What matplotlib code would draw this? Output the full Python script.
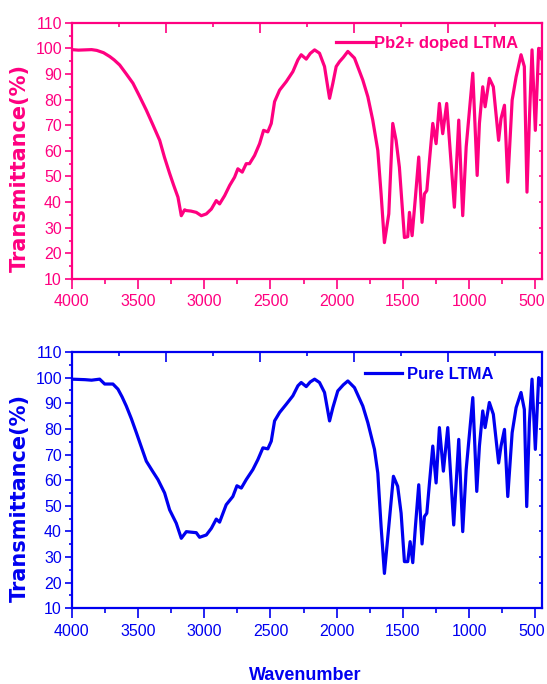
import numpy as np
import matplotlib
matplotlib.use('Agg')
import matplotlib.pyplot as plt
import matplotlib.transforms as mtransforms
from matplotlib.ticker import MultipleLocator, FixedLocator

# FTIR spectra, values
doped_wn = [4000, 3950, 3900, 3850, 3811, 3760, 3713, 3680, 3638, 3588, 3538, 3490, 3437, 3386,
            3336, 3300, 3261, 3230, 3198, 3173, 3148, 3135, 3100, 3060, 3022, 2984, 2946, 2909,
            2884, 2846, 2808, 2771, 2746, 2713, 2683, 2658, 2620, 2582, 2552, 2520, 2494, 2469,
            2431, 2381, 2331, 2293, 2268, 2230, 2200, 2167, 2130, 2092, 2065, 2054, 2029, 2004,
            1979, 1950, 1916, 1866, 1803, 1765, 1728, 1690, 1665, 1640, 1607, 1577, 1552, 1527,
            1489, 1464, 1451, 1431, 1406, 1381, 1356, 1338, 1320, 1300, 1275, 1250, 1225, 1200,
            1170, 1112, 1079, 1049, 1023, 973, 940, 923, 898, 880, 848, 818, 778, 760, 734, 709,
            676, 646, 609, 584, 564, 546, 526, 501, 476, 455]
doped_T = [99.5, 99.3, 99.4, 99.5, 99.2, 98.3, 96.8, 95.5, 93.5, 90.0, 86.4, 81.5, 75.9, 70.0,
           64.1, 57.5, 51.2, 46.5, 41.9, 34.7, 37.0, 36.7, 36.5, 36.0, 34.7, 35.4, 37.3, 40.6,
           39.3, 42.5, 46.5, 49.7, 53.0, 51.7, 55.0, 55.0, 58.2, 62.8, 68.0, 67.4, 70.7, 79.2,
           83.7, 87.0, 90.9, 95.5, 97.5, 95.8, 98.0, 99.4, 98.1, 92.9, 84.0, 80.5, 86.4, 92.9,
           94.8, 96.5, 98.8, 96.2, 87.6, 81.1, 72.0, 60.2, 43.2, 24.2, 35.4, 70.7, 64.1, 53.6,
           26.2, 26.5, 36.0, 26.9, 41.9, 57.6, 32.1, 43.2, 44.5, 56.3, 70.7, 62.8, 78.5, 66.7,
           78.5, 38.0, 72.0, 34.7, 61.5, 90.3, 50.4, 70.7, 85.0, 77.2, 88.3, 85.0, 64.1, 72.6,
           77.8, 47.8, 79.8, 88.9, 97.5, 92.9, 43.9, 72.0, 99.4, 68.0, 100.0, 96.0]

pure_wn = [4000, 3900, 3850, 3789, 3751, 3689, 3651, 3620, 3588, 3550, 3512, 3475, 3437, 3390,
           3349, 3299, 3261, 3211, 3173, 3135, 3100, 3060, 3035, 2984, 2946, 2909, 2884, 2834,
           2784, 2753, 2720, 2683, 2633, 2595, 2557, 2520, 2494, 2469, 2431, 2381, 2331, 2293,
           2268, 2230, 2200, 2167, 2130, 2092, 2054, 2029, 1992, 1950, 1916, 1866, 1803, 1765,
           1715, 1690, 1665, 1640, 1607, 1572, 1540, 1514, 1489, 1464, 1446, 1426, 1406, 1381,
           1356, 1338, 1320, 1300, 1275, 1250, 1225, 1195, 1162, 1117, 1079, 1049, 1023, 973,
           943, 923, 898, 880, 848, 818, 778, 760, 734, 709, 676, 646, 609, 584, 566, 546, 526,
           501, 476, 455]
pure_T = [99.4, 99.2, 99.0, 99.4, 97.5, 97.5, 95.5, 92.5, 88.9, 84.0, 78.5, 73.0, 67.4, 63.5,
          60.2, 55.0, 48.4, 43.2, 37.3, 39.9, 39.7, 39.5, 37.7, 38.6, 41.2, 44.8, 43.6, 50.4,
          53.6, 57.8, 56.9, 60.2, 64.1, 68.0, 72.6, 72.2, 75.2, 83.1, 86.4, 89.6, 92.9, 96.8,
          98.1, 96.5, 98.3, 99.4, 98.1, 94.2, 83.1, 88.3, 94.8, 97.2, 98.7, 96.1, 88.9, 82.4,
          72.0, 62.8, 41.9, 23.6, 41.9, 61.5, 57.6, 47.1, 28.2, 28.2, 36.0, 27.8, 41.9, 58.2,
          35.1, 45.8, 47.1, 58.9, 73.3, 58.9, 80.5, 63.5, 80.5, 42.5, 75.9, 39.9, 64.1, 92.2,
          55.6, 73.3, 87.0, 80.5, 90.3, 85.7, 66.7, 73.3, 79.8, 53.6, 78.5, 88.3, 94.2, 87.6,
          49.7, 82.4, 99.4, 72.0, 100.0, 97.0]

x_ticks = [4000, 3500, 3000, 2500, 2000, 1500, 1000, 500]

PINK = '#ff0080'
BLUE = '#0000f0'
SANS = ['Liberation Sans', 'DejaVu Sans']

fig = plt.figure(figsize=(5.47, 6.84), dpi=100)


def panel(rect, wn, T, color, label, leg_xy, gap):
    ax = fig.add_axes(rect)
    ax.plot(wn, T, color=color, lw=2.3, label=label, solid_joinstyle='round')
    ax.set_xlim(4000, 453)
    ax.set_ylim(10, 110)
    ax.xaxis.set_major_locator(FixedLocator(x_ticks))
    ax.xaxis.set_minor_locator(MultipleLocator(250))
    ax.yaxis.set_major_locator(MultipleLocator(10))
    ax.yaxis.set_minor_locator(MultipleLocator(5))
    ax.tick_params(axis='x', which='major', direction='out', length=7, width=1.2, color=color, pad=4)
    ax.tick_params(axis='x', which='minor', direction='out', length=3.5, width=1.2, color=color)
    ax.tick_params(axis='y', which='major', direction='out', length=5, width=1.2, color=color, pad=2)
    ax.tick_params(axis='y', which='minor', direction='out', length=2.5, width=1.2, color=color)
    for lab in ax.get_xticklabels() + ax.get_yticklabels():
        lab.set_family(SANS)
        lab.set_fontsize(11.5)
        lab.set_color(color)
    # keep the "500" label inside the figure edge
    last = ax.get_xticklabels()[-1]
    last.set_transform(last.get_transform() +
                       mtransforms.ScaledTranslation(-3 / 72, 0, fig.dpi_scale_trans))
    for s in ax.spines.values():
        s.set_color(color)
        s.set_linewidth(1.6)

    # mirrored top axis (its own scale) and right axis, ticks pointing in
    top = ax.twiny()
    top.set_xlim(0, 5)
    top.xaxis.set_major_locator(MultipleLocator(1))
    top.xaxis.set_minor_locator(MultipleLocator(0.5))
    top.tick_params(axis='x', which='major', direction='in', length=7, width=1.2, color=color, labeltop=False)
    top.tick_params(axis='x', which='minor', direction='in', length=3, width=1.2, color=color)
    for s in top.spines.values():
        s.set_visible(False)
    right = ax.secondary_yaxis('right')
    right.set_yticks(np.arange(20, 101, 10))
    right.tick_params(direction='in', length=2.5, width=1.2, color=color, labelright=False)
    right.spines['right'].set_visible(False)

    leg = ax.legend(loc='center left', bbox_to_anchor=leg_xy, frameon=False,
                    borderpad=0, borderaxespad=0, handlelength=2.2, handletextpad=gap,
                    prop={'family': SANS, 'weight': 'bold', 'size': 12})
    for t in leg.get_texts():
        t.set_color(color)
    return ax


ax1 = panel([0.1311, 0.5921, 0.8592, 0.3747], doped_wn, doped_T, PINK,
            'Pb2+ doped LTMA', (0.562, 0.92), 0.1)
ax2 = panel([0.1311, 0.1107, 0.8592, 0.3747], pure_wn, pure_T, BLUE,
            'Pure LTMA', (0.624, 0.913), 0.35)

fig.text(19.5 / 547, 1 - 168 / 684, 'Transmittance(%)', rotation=90, ha='center', va='center',
         color=PINK, fontsize=15, fontweight='bold', family='DejaVu Sans')
fig.text(19.5 / 547, 1 - 498 / 684, 'Transmittance(%)', rotation=90, ha='center', va='center',
         color=BLUE, fontsize=15, fontweight='bold', family='DejaVu Sans')
fig.text(305 / 547, 1 - 675 / 684, 'Wavenumber', ha='center', va='center',
         color=BLUE, fontsize=13, fontweight='bold', family=SANS)

fig.savefig('out.png', dpi=100)
